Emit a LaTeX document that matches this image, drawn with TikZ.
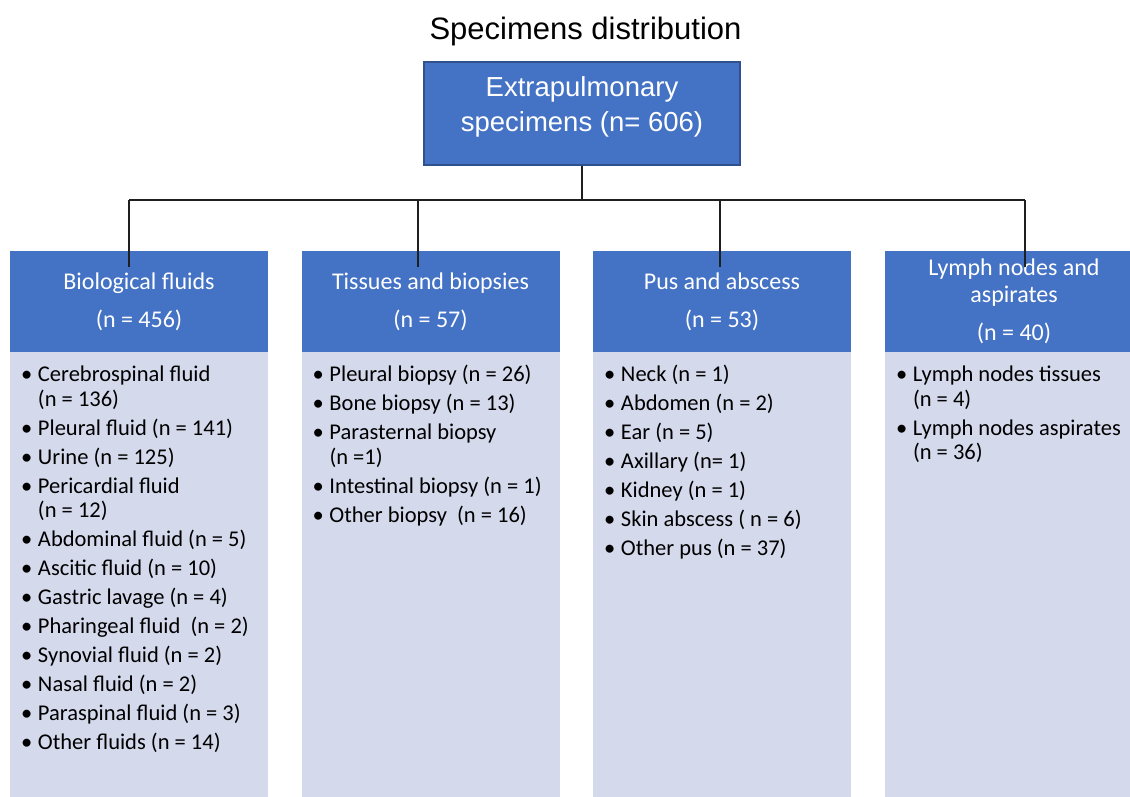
\documentclass[tikz,border=0pt]{standalone}
\usepackage{xcolor}
\usepackage{fontspec}
\setmainfont{Carlito}
\newfontfamily\arialfont{Liberation Sans}
\usepackage{tikz}

\definecolor{hdrblue}{HTML}{4472C4}
\definecolor{hdrline}{HTML}{2F528F}
\definecolor{bodylav}{HTML}{D4D9EC}
\definecolor{linkgray}{HTML}{1F1F1F}

\newcommand{\bul}{\strut\makebox[17pt][l]{\textbullet}}
\newcommand{\cnt}{\strut\hspace*{17pt}}

\tikzset{
    rootbox/.style={rectangle, draw=hdrline, line width=1.5pt, fill=hdrblue,
        minimum width=316pt, minimum height=103pt},
    roottext/.style={text=white, align=center,
        font={\arialfont\fontsize{27.5}{35}\selectfont}},
    headbox/.style={rectangle, fill=hdrblue, text=white, align=center, inner sep=0pt,
        minimum width=258pt, minimum height=101pt, font={\fontsize{24}{27}\selectfont}},
    bodybox/.style={rectangle, fill=bodylav, inner sep=0pt, anchor=north,
        minimum width=258pt, minimum height=446pt},
    bodytext/.style={anchor=north west, align=left, inner sep=0pt,
        font={\fontsize{22.5}{24.5}\selectfont}},
    link/.style={draw=linkgray, line width=1.3pt},
    bar/.style={draw=linkgray, line width=2.2pt}
}

\begin{document}
\begin{tikzpicture}[x=1pt, y=-1pt]
                        \useasboundingbox (0,0) rectangle (1130,797);

                        \node (title) at (585.5,39.5) [anchor=base, font={\arialfont\fontsize{31}{37}\selectfont}] {Specimens distribution};

                        \node (root) at (582,113.5) [rootbox] {};
                        \node (rootlbl) at ([yshift=7pt]root.center) [roottext] {Extrapulmonary\\specimens (n= 606)};

                        \node (bio) at (139,301.5) [headbox] {Biological fluids\\[11pt](n = 456)};
                        \node (tis) at (430.5,301.5) [headbox] {Tissues and biopsies\\[11pt](n = 57)};
                        \node (pus) at (722,301.5) [headbox] {Pus and abscess\\[11pt](n = 53)};
                        \node (lym) at (1014,301.5) [headbox] {Lymph nodes and\\aspirates\\[11pt](n = 40)};

                        \foreach \n in {bio,tis,pus,lym}
                            \node (\n list) at (\n.south) [bodybox] {};

                        \node (bioitems) at ([xshift=11pt, yshift=-12.3pt]biolist.north west) [bodytext] {
                            \bul Cerebrospinal fluid\\
                            \cnt(n = 136)\\[4.5pt]
                            \bul Pleural fluid (n = 141)\\[4.5pt]
                            \bul Urine (n = 125)\\[4.5pt]
                            \bul Pericardial fluid\\
                            \cnt(n = 12)\\[4.5pt]
                            \bul Abdominal fluid (n = 5)\\[4.5pt]
                            \bul Ascitic fluid (n = 10)\\[4.5pt]
                            \bul Gastric lavage (n = 4)\\[4.5pt]
                            \bul Pharingeal fluid~ (n = 2)\\[4.5pt]
                            \bul Synovial fluid (n = 2)\\[4.5pt]
                            \bul Nasal fluid (n = 2)\\[4.5pt]
                            \bul Paraspinal fluid (n = 3)\\[4.5pt]
                            \bul Other fluids (n = 14)
                        };

                        \node (tisitems) at ([xshift=11pt, yshift=-12.3pt]tislist.north west) [bodytext] {
                            \bul Pleural biopsy (n = 26)\\[4.5pt]
                            \bul Bone biopsy (n = 13)\\[4.5pt]
                            \bul Parasternal biopsy\\
                            \cnt(n =1)\\[4.5pt]
                            \bul Intestinal biopsy (n = 1)\\[4.5pt]
                            \bul Other biopsy~ (n = 16)
                        };

                        \node (pusitems) at ([xshift=11pt, yshift=-12.3pt]puslist.north west) [bodytext] {
                            \bul Neck (n = 1)\\[4.5pt]
                            \bul Abdomen (n = 2)\\[4.5pt]
                            \bul Ear (n = 5)\\[4.5pt]
                            \bul Axillary (n= 1)\\[4.5pt]
                            \bul Kidney (n = 1)\\[4.5pt]
                            \bul Skin abscess ( n = 6)\\[4.5pt]
                            \bul Other pus (n = 37)
                        };

                        \node (lymitems) at ([xshift=11pt, yshift=-12.3pt]lymlist.north west) [bodytext] {
                            \bul Lymph nodes tissues\\
                            \cnt(n = 4)\\[4.5pt]
                            \bul Lymph nodes aspirates\\
                            \cnt(n = 36)
                        };

                        \coordinate (barL) at (129,200);
                        \coordinate (barR) at (1025,200);
                        \coordinate (biodrop) at (129,267);
                        \coordinate (tisdrop) at (418,267);
                        \coordinate (pusdrop) at (720,267);
                        \coordinate (lymdrop) at (1025,267);

                        \draw[link] (root.south) -- (root.south |- barL);
                        \draw[bar] (barL) -- (barR);
                        \foreach \n in {bio,tis,pus,lym}
                            \draw[link] (\n drop |- barL) -- (\n drop);
                    \end{tikzpicture}
\end{document}
